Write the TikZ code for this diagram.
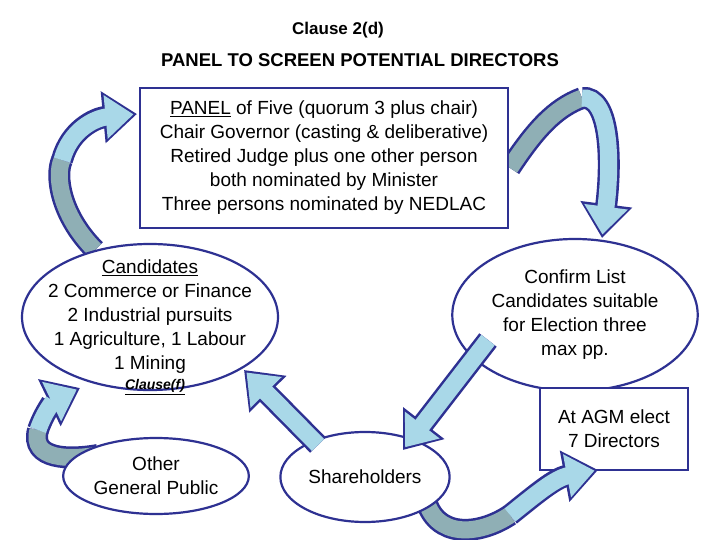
\documentclass[tikz,border=0pt]{standalone}
\usepackage{fontspec}
\setmainfont{Liberation Sans}
\usetikzlibrary{arrows.meta,calc,shapes.geometric}
\definecolor{navy}{HTML}{2E3192}
\definecolor{lb}{HTML}{A9D8E8}
\definecolor{gb}{HTML}{8FAFB5}
\tikzset{
 x=1pt,y=-1pt,
 txt/.style={font=\fontsize{19}{24}\selectfont, align=center},
 bx/.style={draw=navy, line width=2.2pt, fill=white},
 el/.style={draw=navy, line width=2.2pt, fill=white, ellipse},
 outer/.style={draw=navy, line width=22pt, -{Triangle[length=34pt,width=50pt]}},
 inner/.style={draw=lb, line width=17pt, shorten >=3.5pt, -{Triangle[length=28pt,width=42pt]}},
 outerT/.style={draw=navy, line width=22pt},
 innerT/.style={draw=gb, line width=17pt},
}
\begin{document}
\begin{tikzpicture}
\useasboundingbox (0,0) rectangle (720,540);
\fill[white] (0,0) rectangle (720,540);
\node[font=\bfseries\fontsize{17}{20}\selectfont] (t1) at (338,30) {Clause 2(d)};
\node[font=\bfseries\fontsize{18.5}{20}\selectfont] (t2) at (360,60) {PANEL TO SCREEN POTENTIAL DIRECTORS};
% curved arrows behind shapes
\draw[outerT] (95,250) .. controls (60,215) and (55,175) .. (62,160);
\draw[outer] (62,160) .. controls (70,130) and (95,118) .. (137,114);
\draw[innerT] (95,250) .. controls (60,215) and (55,175) .. (62,160);
\draw[inner] (62,160) .. controls (70,130) and (95,118) .. (137,114);
\draw[outerT] (510,168) .. controls (535,130) and (555,108) .. (582,98);
\draw[outer] (582,98) .. controls (610,95) and (612,160) .. (602,238);
\draw[innerT] (510,168) .. controls (535,130) and (555,108) .. (582,98);
\draw[inner] (582,98) .. controls (610,95) and (612,160) .. (602,238);
\draw[outerT] (98,455) .. controls (70,460) and (30,460) .. (38,430);
\draw[outer] (38,430) .. controls (45,410) and (55,400) .. (80,388);
\draw[innerT] (98,455) .. controls (70,460) and (30,460) .. (38,430);
\draw[inner] (38,430) .. controls (45,410) and (55,400) .. (80,388);
% nodes
\node[bx, minimum width=368pt, minimum height=140pt, txt] (panel) at (324,158) {\underline{PANEL} of Five (quorum 3 plus chair)\\Chair Governor (casting \& deliberative)\\Retired Judge plus one other person\\both nominated by Minister\\Three persons nominated by NEDLAC};
\node[el, minimum width=256pt, minimum height=146pt] (cand) at (150,317) {};
\node[txt] (candt) at (150,317) {\underline{Candidates}\\2 Commerce or Finance\\2 Industrial pursuits\\1 Agriculture, 1 Labour\\1 Mining};
\node[font=\bfseries\itshape\fontsize{14}{16}\selectfont] (cl) at (155,387) {\underline{Clause(f)}};
\node[el, minimum width=190pt, minimum height=152pt, txt] (conf) at (575,315) {Confirm List\\Candidates suitable\\for Election three\\max pp.};
\node[bx, minimum width=148pt, minimum height=82pt, txt] (agm) at (614,429) {At AGM elect\\7 Directors};
\node[el, minimum width=170pt, minimum height=76pt, txt] (oth) at (156,476) {Other\\General Public};
% bottom right curved arrow (drawn before shareholders)
\draw[outerT] (425,497) .. controls (435,540) and (480,535) .. (510,515);
\draw[outer] (510,515) .. controls (535,495) and (555,478) .. (598,470);
\draw[innerT] (425,497) .. controls (435,540) and (480,535) .. (510,515);
\draw[inner] (510,515) .. controls (535,495) and (555,478) .. (598,470);
\node[el, minimum width=156pt, minimum height=90pt, txt] (sh) at (365,477) {Shareholders};
% straight arrows
\coordinate (a1) at (488,340); \coordinate (a2) at (403,450);
\coordinate (b1) at (318,445); \coordinate (b2) at (244,370);
\draw[outer] (a1) -- (a2); \draw[inner] (a1) -- (a2);
\draw[outer] (b1) -- (b2); \draw[inner] (b1) -- (b2);
\end{tikzpicture}
\end{document}
